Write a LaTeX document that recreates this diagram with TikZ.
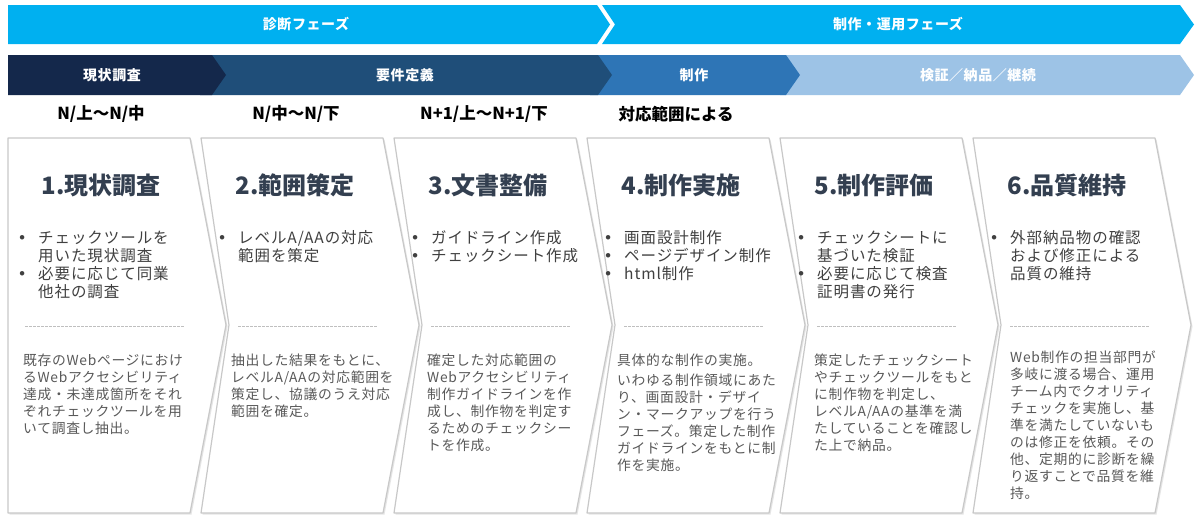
\documentclass[tikz,border=0pt]{standalone}
\usepackage{fontspec}
\setmainfont{Noto Sans CJK JP}
\newfontfamily\dvfont{DejaVu Sans}
\definecolor{phasebg}{HTML}{00B0F0}
\definecolor{stA}{HTML}{14284B}
\definecolor{stB}{HTML}{1F4E79}
\definecolor{stC}{HTML}{2E75B6}
\definecolor{stD}{HTML}{9DC3E6}
\definecolor{titlec}{HTML}{333F50}
\definecolor{bulc}{HTML}{404040}
\definecolor{descc}{HTML}{595959}
\definecolor{edgec}{HTML}{C8C8C8}
\definecolor{dashc}{HTML}{BFBFBF}
\newcommand\bl{\makebox[14pt][c]{\dvfont •}}
\tikzset{
 bandtxt/.style={text=white, font=\fontsize{14}{16}\selectfont\bfseries\addfontfeature{LetterSpace=4}, inner sep=0},
 lbl/.style={text=black, font=\fontsize{16.5}{18}\selectfont\bfseries, inner sep=0},
 ttl/.style={text=titlec, font=\fontsize{24}{27}\selectfont\bfseries, inner sep=0},
 bul/.style={text=bulc, font=\fontsize{15.5}{17}\selectfont\addfontfeature{LetterSpace=6}, inner sep=0, anchor=base west},
 desc/.style={text=descc, font=\fontsize{13.8}{17}\selectfont\addfontfeature{LetterSpace=5}, inner sep=0, anchor=base west},
 card/.style={fill=white, draw=edgec, line width=1.2pt, line join=round},
 cardshadow/.style={fill=black!10},
 sepline/.style={draw=dashc, line width=0.8pt, dash pattern=on 2.5pt off 1.5pt},
}
\begin{document}
\begin{tikzpicture}[x=1pt,y=-1pt]
\useasboundingbox[fill=white] (0,0) rectangle (1200,522);

% top phase bands
\fill[phasebg] (8,5) -- (597,5) -- (610,24.5) -- (597,44) -- (8,44) -- cycle;
\fill[phasebg] (602,5) -- (1180,5) -- (1194,24.5) -- (1180,44) -- (602,44) -- (615,24.5) -- cycle;
\node[bandtxt] (p1) at (306,24.5) {診断フェーズ};
\node[bandtxt] (p2) at (898,24.5) {制作・運用フェーズ};

% stage bands
\fill[stD] (780,55) -- (1180,55) -- (1194,75) -- (1180,95) -- (780,95) -- cycle;
\fill[stC] (590,55) -- (786,55) -- (800,75) -- (786,95) -- (590,95) -- cycle;
\fill[stB] (200,55) -- (598,55) -- (612,75) -- (598,95) -- (200,95) -- cycle;
\fill[stA] (8,55) -- (212,55) -- (226,75) -- (212,95) -- (8,95) -- cycle;
\node[bandtxt] (s1) at (112,75) {現状調査};
\node[bandtxt] (s2) at (405,75) {要件定義};
\node[bandtxt] (s3) at (694,75) {制作};
\node[bandtxt] (s4) at (978,75) {検証／納品／継続};

% period labels
\node[lbl] (l1) at (101,114) {N/上～N/中};
\node[lbl] (l2) at (296,114) {N/中～N/下};
\node[lbl] (l3) at (484,114) {N+1/上～N+1/下};
\node[lbl] (l4) at (676,114) {対応範囲による};

% cards
\fill[cardshadow] (9.5,139.5) -- (191.5,139.5) -- (227.5,326.5) -- (191.5,514.5) -- (9.5,514.5) -- cycle;
\path[card] (8,138) -- (190,138) -- (226,325) -- (190,513) -- (8,513) -- cycle;
\foreach \L in {201,394,587,780,973}{
  \fill[cardshadow] ({\L+1.5},139.5) -- ({\L+183.5},139.5) -- ({\L+219.5},326.5) -- ({\L+183.5},514.5) -- ({\L+1.5},514.5) -- ({\L+29.5},326.5) -- cycle;
  \path[card] (\L,138) -- ({\L+182},138) -- ({\L+218},325) -- ({\L+182},513) -- (\L,513) -- ({\L+28},325) -- cycle;
  \draw[sepline] ({\L+37},326) -- ({\L+177},326);
}
\draw[sepline] (25,326) -- (185,326);

% titles
\node[ttl] (t1) at (101,185) {1.現状調査};
\node[ttl] (t2) at (295,185) {2.範囲策定};
\node[ttl] (t3) at (488,185) {3.文書整備};
\node[ttl] (t4) at (681,185) {4.制作実施};
\node[ttl] (t5) at (874,185) {5.制作評価};
\node[ttl] (t6) at (1067,185) {6.品質維持};

% bullets
\node[bul] (b1) at (15,243) {\begin{tabular}[t]{@{}l@{\hspace{9pt}}l@{}}\bl&チェックツールを\\&用いた現状調査\\\bl&必要に応じて同業\\&他社の調査\end{tabular}};
\node[bul] (b2) at (215,243) {\begin{tabular}[t]{@{}l@{\hspace{9pt}}l@{}}\bl&レベルA/AAの対応\\&範囲を策定\end{tabular}};
\node[bul] (b3) at (408,243) {\begin{tabular}[t]{@{}l@{\hspace{9pt}}l@{}}\bl&ガイドライン作成\\\bl&チェックシート作成\end{tabular}};
\node[bul] (b4) at (601,243) {\begin{tabular}[t]{@{}l@{\hspace{9pt}}l@{}}\bl&画面設計制作\\\bl&ページデザイン制作\\\bl&html制作\end{tabular}};
\node[bul] (b5) at (794,243) {\begin{tabular}[t]{@{}l@{\hspace{9pt}}l@{}}\bl&チェックシートに\\&基づいた検証\\\bl&必要に応じて検査\\&証明書の発行\end{tabular}};
\node[bul] (b6) at (987,243) {\begin{tabular}[t]{@{}l@{\hspace{9pt}}l@{}}\bl&外部納品物の確認\\&および修正による\\&品質の維持\end{tabular}};

% descriptions
\node[desc] (d1) at (23,365) {\begin{tabular}[t]{@{}l@{}}既存のWebページにおけ\\るWebアクセシビリティ\\達成・未達成箇所をそれ\\ぞれチェックツールを用\\いて調査し抽出。\end{tabular}};
\node[desc] (d2) at (231,365) {\begin{tabular}[t]{@{}l@{}}抽出した結果をもとに、\\レベルA/AAの対応範囲を\\策定し、協議のうえ対応\\範囲を確定。\end{tabular}};
\node[desc] (d3) at (427,365) {\begin{tabular}[t]{@{}l@{}}確定した対応範囲の\\Webアクセシビリティ\\制作ガイドラインを作\\成し、制作物を判定す\\るためのチェックシー\\トを作成。\end{tabular}};
\node[desc] (d4) at (617,365) {\begin{tabular}[t]{@{}l@{}}具体的な制作の実施。\\[3pt]いわゆる制作領域にあた\\り、画面設計・デザイ\\ン・マークアップを行う\\フェーズ。策定した制作\\ガイドラインをもとに制\\作を実施。\end{tabular}};
\node[desc] (d5) at (814,365) {\begin{tabular}[t]{@{}l@{}}策定したチェックシート\\やチェックツールをもと\\に制作物を判定し、\\レベルA/AAの基準を満\\たしていることを確認し\\た上で納品。\end{tabular}};
\node[desc] (d6) at (1010,362) {\begin{tabular}[t]{@{}l@{}}Web制作の担当部門が\\多岐に渡る場合、運用\\チーム内でクオリティ\\チェックを実施し、基\\準を満たしていないも\\のは修正を依頼。その\\他、定期的に診断を繰\\り返すことで品質を維\\持。\end{tabular}};
\end{tikzpicture}
\end{document}
